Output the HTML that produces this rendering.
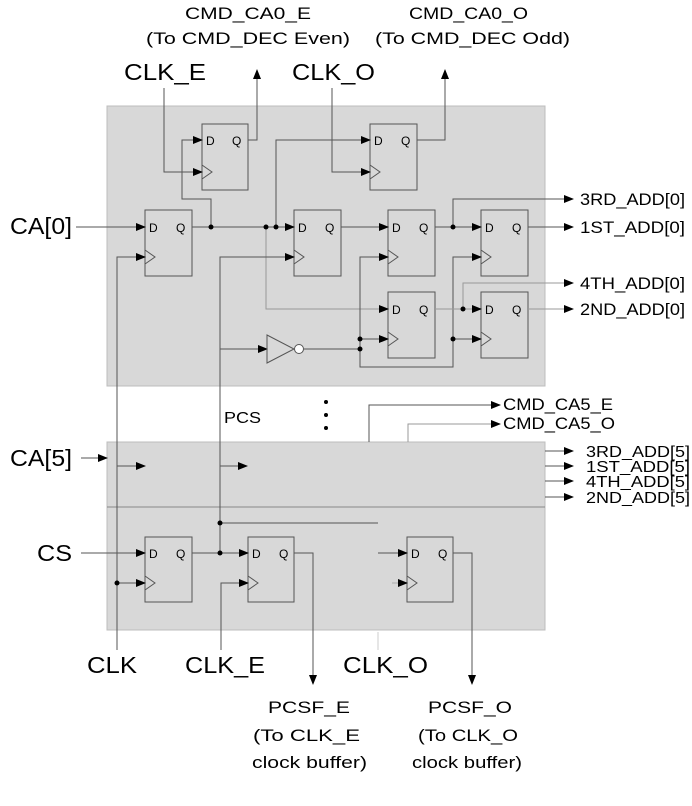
<!DOCTYPE html>
<html><head><meta charset="utf-8"><style>
html,body{margin:0;padding:0;background:#fff;}
svg{display:block;}
text{font-family:"Liberation Sans",Arial,sans-serif;fill:#000;}
</style></head><body>
<svg width="692" height="806" viewBox="0 0 692 806" xmlns="http://www.w3.org/2000/svg">
<defs>
<marker id="a" markerWidth="10" markerHeight="8" refX="9" refY="4" orient="auto" markerUnits="userSpaceOnUse">
<path d="M0,0 L10,4 L0,8 z" fill="#000"/></marker>
</defs>
<rect x="107" y="106" width="438" height="280" fill="#d8d8d8" stroke="#bdbdbd"/>
<rect x="107" y="442" width="438" height="188" fill="#d8d8d8" stroke="#bdbdbd"/>
<line x1="107" y1="507" x2="545" y2="507" stroke="#888"/>

<g stroke="#555" stroke-width="1" fill="none">
<rect x="202" y="124" width="46" height="66" fill="#d8d8d8"/>
<rect x="370" y="124" width="47" height="66" fill="#d8d8d8"/>
<rect x="145" y="210" width="47" height="66"/>
<rect x="294" y="210" width="47" height="66"/>
<rect x="388" y="210" width="47" height="66"/>
<rect x="481" y="210" width="47" height="66"/>
<rect x="388" y="292" width="47" height="66"/>
<rect x="481" y="292" width="47" height="66"/>
<rect x="145" y="537" width="47" height="65"/>
<rect x="248" y="537" width="46" height="65"/>
<rect x="407" y="537" width="46" height="65"/>
<path d="M202,165 L212,172 L202,179 M370,165 L380,172 L370,179 M145,250 L155,257 L145,264 M294,250 L304,257 L294,264 M388,250 L398,257 L388,264 M481,250 L491,257 L481,264 M388,332 L398,339 L388,346 M481,332 L491,339 L481,346 M145,576 L155,583 L145,590 M248,576 L258,583 L248,590 M407,576 L417,583 L407,590"/>
</g>

<g stroke="#555" stroke-width="1" fill="none">
<line x1="76" y1="227" x2="145" y2="227" marker-end="url(#a)"/>
<polyline points="117,650 117,257 145,257" marker-end="url(#a)"/>
<line x1="192" y1="227" x2="294" y2="227" marker-end="url(#a)"/>
<polyline points="211,227 211,199 182,199 182,140 202,140" marker-end="url(#a)"/>
<polyline points="164,88 164,172 202,172" marker-end="url(#a)"/>
<polyline points="248,140 257,140 257,70" marker-end="url(#a)"/>
<polyline points="276,227 276,140 370,140" marker-end="url(#a)"/>
<polyline points="332,88 332,172 370,172" marker-end="url(#a)"/>
<polyline points="417,140 445,140 445,70" marker-end="url(#a)"/>
<polyline points="266,227 266,309 388,309" stroke="#999" marker-end="url(#a)"/>
<polyline points="220,553 220,257 294,257" marker-end="url(#a)"/>
<line x1="220" y1="349" x2="267" y2="349" marker-end="url(#a)"/>
<path d="M267,335 L294,349 L267,363 z"/>
<circle cx="299" cy="349" r="4.5" fill="#fff"/>
<line x1="304" y1="349" x2="360" y2="349"/>
<polyline points="360,349 360,257 388,257" marker-end="url(#a)"/>
<line x1="360" y1="339" x2="388" y2="339" marker-end="url(#a)"/>
<polyline points="360,349 360,367 453,367 453,257 481,257" marker-end="url(#a)"/>
<line x1="453" y1="339" x2="481" y2="339" marker-end="url(#a)"/>
<line x1="341" y1="227" x2="388" y2="227" marker-end="url(#a)"/>
<line x1="435" y1="227" x2="481" y2="227" marker-end="url(#a)"/>
<polyline points="453,227 453,199 573,199" marker-end="url(#a)"/>
<line x1="528" y1="227" x2="573" y2="227" marker-end="url(#a)"/>
<line x1="435" y1="309" x2="481" y2="309" stroke="#999" marker-end="url(#a)"/>
<polyline points="463,309 463,283 573,283" stroke="#999" marker-end="url(#a)"/>
<line x1="528" y1="309" x2="573" y2="309" stroke="#999" marker-end="url(#a)"/>
<polyline points="369,442 369,405 500,405" marker-end="url(#a)"/>
<polyline points="408,442 408,424 500,424" stroke="#999" marker-end="url(#a)"/>
<line x1="545" y1="451" x2="573" y2="451" marker-end="url(#a)"/>
<line x1="545" y1="466" x2="573" y2="466" marker-end="url(#a)"/>
<line x1="545" y1="481" x2="573" y2="481" marker-end="url(#a)"/>
<line x1="545" y1="497" x2="573" y2="497" marker-end="url(#a)"/>
<line x1="81" y1="458" x2="107" y2="458" marker-end="url(#a)"/>
<line x1="117" y1="466" x2="145" y2="466" marker-end="url(#a)"/>
<line x1="220" y1="466" x2="247" y2="466" marker-end="url(#a)"/>
<line x1="220" y1="523" x2="378" y2="523"/>
<line x1="81" y1="553" x2="145" y2="553" marker-end="url(#a)"/>
<line x1="117" y1="583" x2="145" y2="583" marker-end="url(#a)"/>
<line x1="192" y1="553" x2="248" y2="553" marker-end="url(#a)"/>
<polyline points="221,650 221,583 248,583" marker-end="url(#a)"/>
<polyline points="294,553 313,553 313,684" marker-end="url(#a)"/>
<line x1="378" y1="553" x2="407" y2="553" marker-end="url(#a)"/>
<line x1="392" y1="583" x2="407" y2="583" stroke="#aaa" marker-end="url(#a)"/>
<polyline points="453,553 472,553 472,684" marker-end="url(#a)"/>
<line x1="378" y1="632" x2="378" y2="650" stroke="#ccc"/>
</g>

<g fill="#000">
<circle cx="211" cy="227" r="2.5"/><circle cx="266" cy="227" r="2.5"/><circle cx="276" cy="227" r="2.5"/>
<circle cx="453" cy="227" r="2.5"/><circle cx="360" cy="339" r="2.5"/><circle cx="360" cy="349" r="2.5"/>
<circle cx="453" cy="339" r="2.5"/><circle cx="463" cy="309" r="2.5"/>
<circle cx="220" cy="523" r="2.5"/><circle cx="220" cy="553" r="2.5"/><circle cx="117" cy="583" r="2.5"/>
<circle cx="326" cy="402" r="2"/><circle cx="326" cy="415" r="2"/><circle cx="326" cy="428" r="2"/>
</g>

<g font-size="12">
<text x="206" y="145">D</text><text x="232" y="145">Q</text>
<text x="374" y="145">D</text><text x="401" y="145">Q</text>
<text x="149" y="232">D</text><text x="176" y="232">Q</text>
<text x="298" y="232">D</text><text x="325" y="232">Q</text>
<text x="392" y="232">D</text><text x="419" y="232">Q</text>
<text x="485" y="232">D</text><text x="512" y="232">Q</text>
<text x="392" y="314">D</text><text x="419" y="314">Q</text>
<text x="485" y="314">D</text><text x="512" y="314">Q</text>
<text x="149" y="558">D</text><text x="176" y="558">Q</text>
<text x="252" y="558">D</text><text x="279" y="558">Q</text>
<text x="411" y="558">D</text><text x="438" y="558">Q</text>
</g>

<g font-size="17" lengthAdjust="spacingAndGlyphs">
<text x="185" y="19" textLength="126" lengthAdjust="spacingAndGlyphs">CMD_CA0_E</text>
<text x="146" y="44" textLength="204" lengthAdjust="spacingAndGlyphs">(To CMD_DEC Even)</text>
<text x="409" y="19" textLength="119" lengthAdjust="spacingAndGlyphs">CMD_CA0_O</text>
<text x="375" y="44" textLength="195" lengthAdjust="spacingAndGlyphs">(To CMD_DEC Odd)</text>
<text x="580" y="205" textLength="105" lengthAdjust="spacingAndGlyphs">3RD_ADD[0]</text>
<text x="580" y="233" textLength="105" lengthAdjust="spacingAndGlyphs">1ST_ADD[0]</text>
<text x="580" y="289" textLength="105" lengthAdjust="spacingAndGlyphs">4TH_ADD[0]</text>
<text x="580" y="315" textLength="105" lengthAdjust="spacingAndGlyphs">2ND_ADD[0]</text>
<text x="503" y="410" textLength="110" lengthAdjust="spacingAndGlyphs">CMD_CA5_E</text>
<text x="503" y="429" textLength="112" lengthAdjust="spacingAndGlyphs">CMD_CA5_O</text>
<text x="268" y="713" textLength="82" lengthAdjust="spacingAndGlyphs">PCSF_E</text>
<text x="253" y="741" textLength="107" lengthAdjust="spacingAndGlyphs">(To CLK_E</text>
<text x="252" y="768" textLength="115" lengthAdjust="spacingAndGlyphs">clock buffer)</text>
<text x="428" y="713" textLength="84" lengthAdjust="spacingAndGlyphs">PCSF_O</text>
<text x="418" y="741" textLength="100" lengthAdjust="spacingAndGlyphs">(To CLK_O</text>
<text x="412" y="768" textLength="110" lengthAdjust="spacingAndGlyphs">clock buffer)</text>
</g>
<g font-size="16">
<text x="586" y="457" textLength="104" lengthAdjust="spacingAndGlyphs">3RD_ADD[5]</text>
<text x="586" y="472" textLength="104" lengthAdjust="spacingAndGlyphs">1ST_ADD[5]</text>
<text x="586" y="487" textLength="104" lengthAdjust="spacingAndGlyphs">4TH_ADD[5]</text>
<text x="586" y="503" textLength="104" lengthAdjust="spacingAndGlyphs">2ND_ADD[5]</text>
<text x="224" y="423" textLength="37" lengthAdjust="spacingAndGlyphs">PCS</text>
</g>
<g font-size="23">
<text x="124" y="80" textLength="82" lengthAdjust="spacingAndGlyphs">CLK_E</text>
<text x="292" y="80" textLength="83" lengthAdjust="spacingAndGlyphs">CLK_O</text>
<text x="10" y="234" textLength="62" lengthAdjust="spacingAndGlyphs">CA[0]</text>
<text x="10" y="466" textLength="62" lengthAdjust="spacingAndGlyphs">CA[5]</text>
<text x="37" y="561" textLength="35" lengthAdjust="spacingAndGlyphs">CS</text>
<text x="87" y="673" textLength="50" lengthAdjust="spacingAndGlyphs">CLK</text>
<text x="185" y="673" textLength="80" lengthAdjust="spacingAndGlyphs">CLK_E</text>
<text x="343" y="673" textLength="85" lengthAdjust="spacingAndGlyphs">CLK_O</text>
</g>
</svg>
</body></html>
